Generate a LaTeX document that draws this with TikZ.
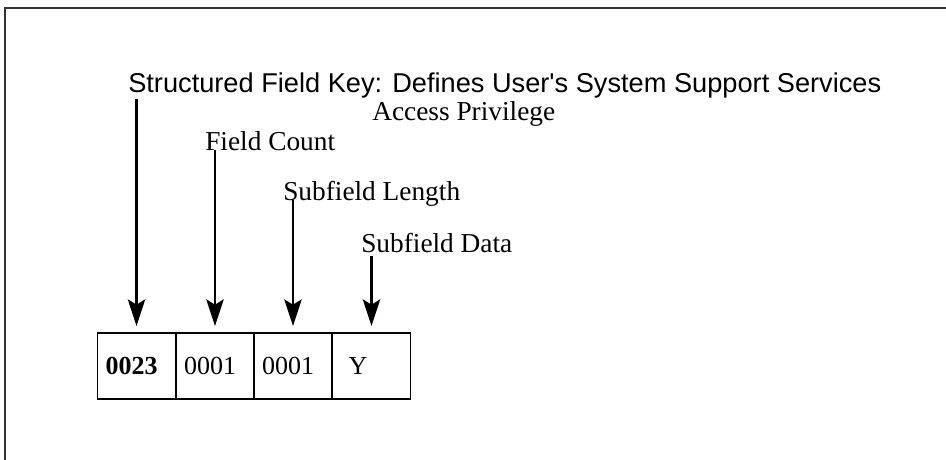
\documentclass[tikz,border=0pt]{standalone}
\usepackage{fontspec}
\setmainfont{Liberation Serif}
\newfontfamily\keyfont{Liberation Sans}
\usetikzlibrary{arrows.meta}

\tikzset{
  label/.style={anchor=base west, inner sep=0pt, font=\fontsize{20.5}{24}\selectfont},
  cell/.style={draw, line width=1.4pt, minimum width=58.5pt, minimum height=49.5pt,
               inner xsep=6pt, text width=46.5pt, align=left, font=\fontsize{19.5}{22}\selectfont},
  pointer/.style={line width=2pt, -{Stealth[length=20pt, width=13pt, inset=4pt]}, shorten >=4.5pt}
}

\begin{document}
\begin{tikzpicture}[x=0.75pt, y=-0.75pt]
                \useasboundingbox (0,0) rectangle (946,460);
                % frame: top and left edges only
                \draw[line width=1.6pt, black!80] (5,460) -- (5,8) -- (946,8);
                \node[label, font=\keyfont\fontsize{20.4}{24}\selectfont] (key) at (128,93) {Structured Field Key: Defines User's System Support Services};
                \node[label] (access) at (372,121) {Access Privilege};
                \node[label] (count) at (205,150) {Field Count};
                \node[label] (length) at (283,200) {Subfield Length};
                \node[label] (data) at (361,252) {Subfield Data};
                % the record
                \node[cell] (c1) at (136.5,366) {\textbf{0023}};
                \node[cell] (c2) at (215,366) {0001};
                \node[cell] (c3) at (293,366) {0001};
                \node[cell] (c4) at (371.5,366) {\hspace*{6pt}Y};
                \draw[pointer] (c1.north |- key.south) -- (c1.north);
                \draw[pointer] (c2.north |- count.base) -- (c2.north);
                \draw[pointer] (c3.north |- length.base) -- (c3.north);
                \draw[pointer] ([yshift=-3pt]c4.north |- data.base) -- (c4.north);
            \end{tikzpicture}
\end{document}
